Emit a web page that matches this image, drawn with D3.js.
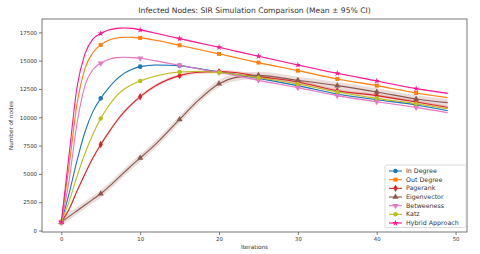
<!DOCTYPE html>
<html><head><meta charset="utf-8">
<script src="https://cdn.jsdelivr.net/npm/d3@7/dist/d3.min.js"></script>
<style>body{margin:0;background:#fff}svg{display:block}text{font-family:"DejaVu Sans",sans-serif;fill:#333}</style>
</head><body><svg id="c" width="480" height="254"></svg>
<script>
const title = "Infected Nodes: SIR Simulation Comparison (Mean ± 95% CI)";
const xLabel = "Iterations";
const yLabel = "Number of nodes";
const xTicks = [0, 10, 20, 30, 40, 50];
const yTicks = [0, 2500, 5000, 7500, 10000, 12500, 15000, 17500];
const markerSteps = [0, 5, 10, 15, 20, 25, 30, 35, 40, 45];
const iterations = [0, 1, 2, 3, 4, 5, 6, 7, 8, 9, 10, 12, 15, 17, 20, 22, 25, 30, 35, 40, 45, 49];
const seriesNames = ["In Degree", "Out Degree", "Pagerank", "Eigenvector", "Betweeness", "Katz", "Hybrid Approach"];
const inDegree   = [742, 3300, 6200, 8700, 10500, 11671, 12600, 13350, 13900, 14250, 14474, 14620, 14562, 14350, 14000, 13800, 13440, 12794, 12060, 11556, 11088, 10584];
const outDegree  = [742, 5800, 11200, 14300, 15700, 16390, 16800, 17000, 17065, 17060, 17010, 16800, 16357, 16060, 15597, 15290, 14828, 14120, 13386, 12794, 12148, 11733];
const pagerank   = [742, 1900, 3500, 5000, 6400, 7604, 8650, 9650, 10500, 11200, 11821, 12800, 13678, 13950, 14032, 13950, 13616, 13121, 12352, 11910, 11352, 10875];
const eigenvector= [742, 1250, 1750, 2250, 2750, 3245, 3850, 4500, 5150, 5800, 6400, 7650, 9814, 11250, 12971, 13500, 13705, 13263, 12794, 12237, 11618, 11291];
const betweeness = [742, 4500, 9500, 12800, 14200, 14766, 15100, 15270, 15296, 15270, 15208, 14980, 14589, 14330, 13950, 13700, 13263, 12617, 11910, 11379, 10875, 10406];
const katz       = [742, 2600, 4800, 6800, 8500, 9903, 11000, 11900, 12500, 12900, 13210, 13650, 14005, 14050, 13950, 13800, 13500, 12944, 12237, 11671, 11202, 10760];
const hybrid     = [742, 6800, 12700, 15600, 16900, 17392, 17700, 17850, 17890, 17850, 17718, 17420, 16950, 16640, 16180, 15860, 15385, 14624, 13882, 13210, 12529, 12114];
const ciHalf = [60, 60, 150, 320, 60, 60, 50];
const colors = ["#1f77b4", "#ff7f0e", "#d62728", "#8c564b", "#e377c2", "#bcbd22", "#ff1493"];
const markers = ["circle", "square", "diamond", "triangle", "triangleDown", "pentagon", "star"];

const values = [inDegree, outDegree, pagerank, eigenvector, betweeness, katz, hybrid];
const svg = d3.select("#c");
const L = 42, R = 467, T = 19, B = 232;
const x = d3.scaleLinear().domain([-2.45, 51.45]).range([L, R]);
const y = d3.scaleLinear().domain([-130, 18680]).range([B, T]);

svg.append("text").attr("x", (L + R) / 2).attr("y", 13).attr("text-anchor", "middle")
  .style("font-size", "7.6px").text(title);

const gx = svg.append("g").attr("transform", `translate(0,${B})`)
  .call(d3.axisBottom(x).tickValues(xTicks).tickSize(3).tickPadding(2).tickFormat(d3.format("d")));
const gy = svg.append("g").attr("transform", `translate(${L},0)`)
  .call(d3.axisLeft(y).tickValues(yTicks).tickSize(3).tickPadding(2).tickFormat(d3.format("d")));
[gx, gy].forEach(g => {
  g.select(".domain").remove();
  g.selectAll("line").attr("stroke", "#444").attr("stroke-width", 0.7);
  g.selectAll("text").style("font-size", "5.4px").attr("fill", "#333").style("font-family", "DejaVu Sans");
});

svg.append("text").attr("x", (L + R) / 2).attr("y", 249).attr("text-anchor", "middle")
  .style("font-size", "5.7px").text(xLabel);
svg.append("text").attr("transform", `translate(13,${(T + B) / 2}) rotate(-90)`).attr("text-anchor", "middle")
  .style("font-size", "5.7px").text(yLabel);

const clip = svg.append("defs").append("clipPath").attr("id", "clp");
clip.append("rect").attr("x", L).attr("y", T).attr("width", R - L).attr("height", B - T);
const plot = svg.append("g").attr("clip-path", "url(#clp)");

const line = d3.line().x((d, i) => x(iterations[i])).y(d => y(d)).curve(d3.curveMonotoneX);
const area = d3.area().x((d, i) => x(iterations[i])).curve(d3.curveMonotoneX);

function symbolPath(kind, s) {
  const sym = {circle: d3.symbolCircle, square: d3.symbolSquare, diamond: d3.symbolDiamond,
    triangle: d3.symbolTriangle, star: d3.symbolStar, pentagon: d3.symbolCircle, triangleDown: d3.symbolTriangle}[kind];
  return d3.symbol().type(sym).size(s)();
}

values.forEach((vals, k) => {
  const h = ciHalf[k];
  plot.append("path").datum(vals)
    .attr("d", area.y0(d => y(d - h)).y1(d => y(d + h)))
    .attr("fill", colors[k]).attr("opacity", 0.2);
});
values.forEach((vals, k) => {
  plot.append("path").datum(vals).attr("d", line).attr("fill", "none")
    .attr("stroke", colors[k]).attr("stroke-width", 1.1);
  const pts = markerSteps.map(t => [t, vals[iterations.indexOf(t)]]);
  plot.selectAll(null).data(pts).enter().append("path")
    .attr("transform", d => `translate(${x(d[0])},${y(d[1])})${markers[k] === "triangleDown" ? " rotate(180)" : ""}`)
    .attr("d", symbolPath(markers[k], markers[k] === "star" ? 12 : 16))
    .attr("fill", colors[k]);
});

svg.append("rect").attr("x", L).attr("y", T).attr("width", R - L).attr("height", B - T)
  .attr("fill", "none").attr("stroke", "#555").attr("stroke-width", 0.8);

// legend
const lg = svg.append("g");
lg.append("rect").attr("x", 385).attr("y", 165).attr("width", 81).attr("height", 62.5)
  .attr("fill", "#fff").attr("fill-opacity", 0.85).attr("stroke", "#ccc").attr("stroke-width", 0.7).attr("rx", 1.5);
seriesNames.forEach((n, k) => {
  const cy = 171 + k * 8.67;
  lg.append("line").attr("x1", 389).attr("x2", 402).attr("y1", cy).attr("y2", cy)
    .attr("stroke", colors[k]).attr("stroke-width", 1.1);
  lg.append("path").attr("transform", `translate(395.5,${cy})${markers[k] === "triangleDown" ? " rotate(180)" : ""}`)
    .attr("d", symbolPath(markers[k], markers[k] === "star" ? 12 : 16)).attr("fill", colors[k]);
  lg.append("text").attr("x", 406).attr("y", cy + 2.1).style("font-size", "6.3px").text(n);
});
</script></body></html>
